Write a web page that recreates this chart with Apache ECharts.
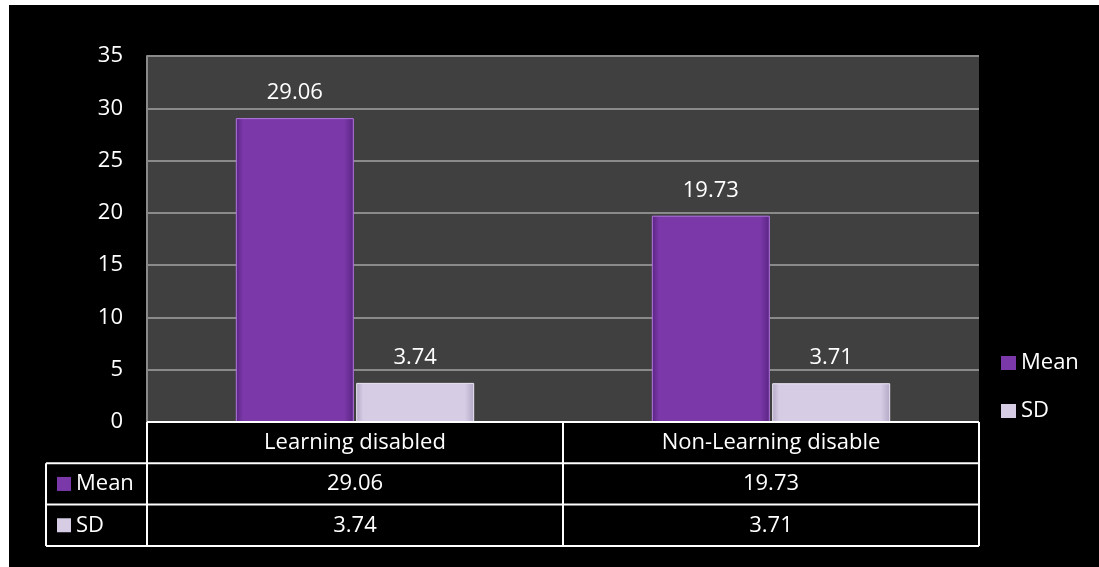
<!DOCTYPE html>
<html>
<head>
<meta charset="utf-8">
<script src="https://cdn.jsdelivr.net/npm/echarts@6/dist/echarts.min.js"></script>
<style>
  html, body { margin: 0; padding: 0; background: #fff; }
  #main {
    position: absolute;
    left: 9px;
    top: 5px;
    width: 1090px;
    height: 562px;
    background: #000;
  }
</style>
</head>
<body>
<div id="main"></div>
<script>
  var categories = ['Learning disabled', 'Non-Learning disable'];
  var seriesNames = ['Mean', 'SD'];
  var meanValues = [29.06, 19.73];
  var sdValues = [3.74, 3.71];
  var yMin = 0, yMax = 35, yStep = 5;

  var colors = ['#7a38a8', '#d6cde5'];
  var font = '"Open Sans", "Noto Sans", sans-serif';

  // plot area (px inside the chart div)
  var gLeft = 138, gTop = 51, gRight = 120, gBottom = 145;
  var W = 1090, H = 562;
  var plotR = W - gRight, plotB = H - gBottom;
  var tabLeft = 37;
  var rowH = 41.3;
  var bandW = (plotR - gLeft) / categories.length;

  var myChart = echarts.init(document.getElementById('main'));

  // table under the chart
  var graphics = [];
  function hline(y, x1, x2) {
    graphics.push({ type: 'line', shape: { x1: x1, y1: y, x2: x2, y2: y }, style: { stroke: '#fff', lineWidth: 2 }, z: 100 });
  }
  function vline(x, y1, y2) {
    graphics.push({ type: 'line', shape: { x1: x, y1: y1, x2: x, y2: y2 }, style: { stroke: '#fff', lineWidth: 2 }, z: 100 });
  }
  var rows = [meanValues, sdValues];
  var tabBottom = plotB + rowH * (rows.length + 1);
  hline(plotB, gLeft, plotR);
  for (var r = 1; r <= rows.length; r++) {
    hline(plotB + rowH * r, tabLeft, plotR);
  }
  hline(tabBottom, tabLeft, plotR);
  vline(tabLeft, plotB + rowH, tabBottom);
  for (var c = 0; c <= categories.length; c++) {
    vline(gLeft + bandW * c, plotB, tabBottom);
  }
  rows.forEach(function (vals, r) {
    var cy = plotB + rowH * (r + 1.5);
    graphics.push({
      type: 'rect', shape: { x: tabLeft + 11, y: cy - 7, width: 14, height: 14 },
      style: { fill: colors[r] }, z: 100
    });
    graphics.push({
      type: 'text', x: tabLeft + 30, y: cy,
      style: { text: seriesNames[r], fill: '#fff', font: '22px ' + font, textVerticalAlign: 'middle' }, z: 100
    });
    vals.forEach(function (v, c) {
      graphics.push({
        type: 'text', x: gLeft + bandW * (c + 0.5), y: cy,
        style: { text: v.toFixed(2), fill: '#fff', font: '22px ' + font, textAlign: 'center', textVerticalAlign: 'middle' }, z: 100
      });
    });
  });

  // bevel-ish look: darker sides
  function bevel(base, dark) {
    return {
      type: 'linear', x: 0, y: 0, x2: 1, y2: 0,
      colorStops: [
        { offset: 0, color: dark },
        { offset: 0.06, color: base },
        { offset: 0.92, color: base },
        { offset: 1, color: dark }
      ]
    };
  }

  var option = {
    animation: false,
    backgroundColor: '#000',
    textStyle: { fontFamily: font },
    grid: { left: gLeft, top: gTop, right: gRight, bottom: gBottom, show: true, backgroundColor: '#404040', borderWidth: 0 },
    legend: {
      orient: 'vertical',
      left: 987,
      top: 342,
      itemWidth: 15,
      itemHeight: 14,
      itemGap: 26,
      icon: 'rect',
      textStyle: { color: '#fff', fontSize: 22, fontFamily: font },
      data: seriesNames.map(function (n, i) { return { name: n, itemStyle: { color: colors[i], borderWidth: 0 } }; })
    },
    xAxis: {
      type: 'category',
      data: categories,
      axisLine: { show: false },
      axisTick: { show: false },
      axisLabel: { color: '#fff', fontSize: 22, margin: 21, verticalAlign: 'middle' }
    },
    yAxis: {
      type: 'value',
      min: yMin,
      max: yMax,
      interval: yStep,
      axisLine: { show: true, lineStyle: { color: '#8a8a8a', width: 2 } },
      axisTick: { show: false },
      axisLabel: { color: '#fff', fontSize: 22, margin: 24 },
      splitLine: { lineStyle: { color: '#8a8a8a', width: 2 } }
    },
    series: [
      {
        name: seriesNames[0], type: 'bar', data: meanValues, barWidth: 118, barGap: '2%',
        itemStyle: { color: bevel(colors[0], '#5a2482'), borderColor: '#b276e0', borderWidth: 1 },
        label: { show: true, position: 'top', distance: 14, color: '#fff', fontSize: 22, formatter: function (p) { return p.value.toFixed(2); } }
      },
      {
        name: seriesNames[1], type: 'bar', data: sdValues, barWidth: 118,
        itemStyle: { color: bevel(colors[1], '#b3a8c6'), borderColor: '#efe9f7', borderWidth: 1 },
        label: { show: true, position: 'top', distance: 14, color: '#fff', fontSize: 22, formatter: function (p) { return p.value.toFixed(2); } }
      }
    ],
    graphic: graphics
  };
  myChart.setOption(option);
</script>
</body>
</html>
